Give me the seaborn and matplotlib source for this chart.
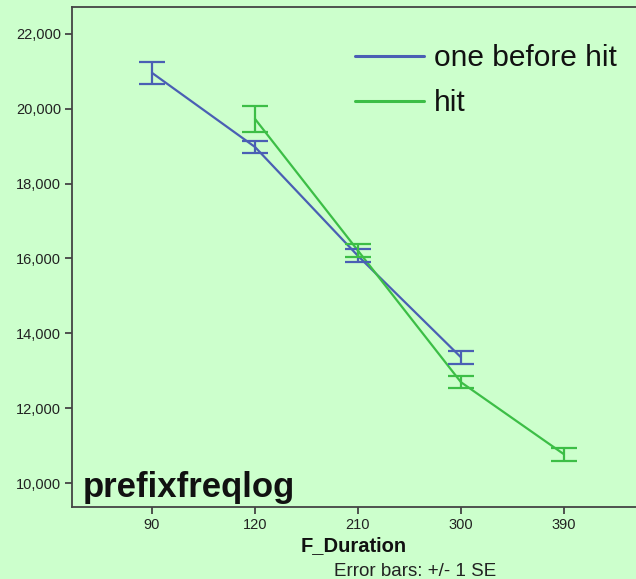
import matplotlib
matplotlib.use("Agg")
import matplotlib.pyplot as plt
import seaborn as sns
import pandas as pd
import numpy as np

# ---- data ----
durations = ["90", "120", "210", "300", "390"]
series_names = ["one before hit", "hit"]
before_x = ["90", "120", "210", "300"]
before_mean = [20960, 18980, 16070, 13360]
before_se = [290, 150, 175, 170]
hit_x = ["120", "210", "300", "390"]
hit_mean = [19730, 16210, 12695, 10770]
hit_se = [350, 165, 160, 175]
y_ticks = [10000, 12000, 14000, 16000, 18000, 20000, 22000]

BG = "#CCFFCC"
colors = {"one before hit": "#4A5FB4", "hit": "#3CBE46"}

sns.set_theme(style="white")
plt.rcParams["font.family"] = ["Liberation Sans", "DejaVu Sans"]

rows = []
for x, m, s in zip(before_x, before_mean, before_se):
    rows.append(dict(dur=x, pos=durations.index(x), mean=m, se=s, grp="one before hit"))
for x, m, s in zip(hit_x, hit_mean, hit_se):
    rows.append(dict(dur=x, pos=durations.index(x), mean=m, se=s, grp="hit"))
df = pd.DataFrame(rows)

fig = plt.figure(figsize=(6.36, 5.79), dpi=100, facecolor=BG)
ax = fig.add_axes([72/636, 1-507/579, 1-72/636, (507-7)/579])
ax.set_facecolor(BG)

sns.lineplot(data=df, x="pos", y="mean", hue="grp", hue_order=series_names,
             palette=colors, linewidth=1.6, ax=ax, legend=True, errorbar=None)
for g in series_names:
    d = df[df.grp == g]
    ax.errorbar(d["pos"], d["mean"], yerr=d["se"], fmt="none", ecolor=colors[g],
                elinewidth=1.6, capsize=9.5, capthick=1.6)

ax.set_xlim(-0.777, 4.70)
ax.set_ylim(9360, 22720)
ax.set_xticks(range(len(durations)))
ax.set_xticklabels(durations)
ax.set_yticks(y_ticks)
ax.set_yticklabels([f"{v:,}" for v in y_ticks])
ax.tick_params(axis="both", which="major", direction="out", length=5, width=1.3,
               color="#444444", labelsize=10.5, labelcolor="#222222", pad=3,
               left=True, bottom=True)
for side in ["left", "bottom", "top"]:
    ax.spines[side].set_color("#444444")
    ax.spines[side].set_linewidth(1.3)
    ax.spines[side].set_visible(True)
ax.spines["right"].set_visible(False)

ax.set_xlabel("F_Duration", fontsize=14.5, fontweight="bold", labelpad=3, color="#111111")
ax.set_ylabel("")

ax.text(83/636, 1-497/579, "prefixfreqlog", transform=fig.transFigure, fontsize=25,
        fontweight="bold", color="#111111", ha="left", va="baseline")

fig.text(415/636, 1-571/579, "Error bars: +/- 1 SE", fontsize=13.5,
         ha="center", va="center", color="#222222")

handles, labels = ax.get_legend_handles_labels()
leg = ax.legend(handles, labels, loc="upper left", bbox_to_anchor=(355/636, 1-44/579),
                bbox_transform=fig.transFigure, borderpad=0, borderaxespad=0,
                frameon=False, handlelength=2.3, handletextpad=0.35, labelspacing=0.58,
                prop={"family": ["Liberation Sans", "DejaVu Sans"], "size": 21.5})
for l in leg.get_lines():
    l.set_linewidth(2.2)
for t in leg.get_texts():
    t.set_color("#111111")

fig.savefig("out.png", dpi=100, facecolor=BG)
